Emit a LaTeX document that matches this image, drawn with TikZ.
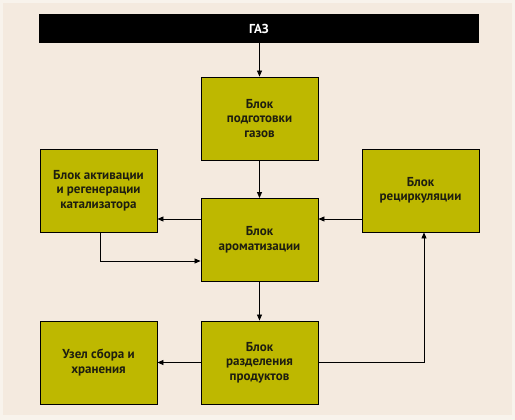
\documentclass[tikz,border=0pt]{standalone}
\usepackage{fontspec}
\setmainfont{PT Sans}
\usetikzlibrary{arrows.meta}
\definecolor{bg}{HTML}{F4EADF}
\definecolor{bgedge}{HTML}{F8F3EC}
\definecolor{boxfill}{HTML}{BEB800}
\definecolor{txt}{HTML}{1E1E10}
\tikzset{
  blk/.style={draw=black, line width=0.9pt, fill=boxfill, minimum width=117pt, minimum height=83pt,
    inner sep=0pt, align=center, font=\bfseries\fontsize{13}{14.5}\selectfont, text=txt},
  conn/.style={line width=0.8pt, -{Triangle[length=6pt,width=5pt]}},
  plain/.style={line width=0.8pt}
}
\begin{document}
\begin{tikzpicture}[x=1pt,y=-1pt]
\useasboundingbox (0,0) rectangle (515,420);
\fill[bgedge] (0,0) rectangle (515,420);
\fill[bg] (3,3) rectangle (512,415);
\node[fill=black, minimum width=440pt, minimum height=29pt, inner sep=0pt, text=white,
  font=\bfseries\fontsize{13}{14.5}\selectfont] (gas) at (259,28.5) {ГАЗ};
\node[blk] (prep) at (259.5,118.5) {Блок\\подготовки\\газов};
\node[blk] (arom) at (259.5,240) {Блок\\ароматизации};
\node[blk] (act) at (98.5,190.5) {Блок активации\\и регенерации\\катализатора};
\node[blk] (rec) at (420.5,190.5) {Блок\\рециркуляции};
\node[blk] (sep) at (259.5,362.5) {Блок\\разделения\\продуктов};
\node[blk] (stor) at (98.5,362.5) {Узел сбора и\\хранения};
\draw[conn] (gas.south -| prep.north) -- (prep.north);
\draw[conn] (prep) -- (arom);
\draw[conn] (arom.west |- 0,219) -- (act.east |- 0,219);
\draw[conn] (rec.west |- 0,219) -- (arom.east |- 0,219);
\draw[conn] (act.south -| 100,0) |- (arom.west |- 0,261);
\draw[conn] (arom) -- (sep);
\draw[conn] (sep) -- (stor);
\draw[conn] (sep.east) -| (rec.south -| 424,0);
\end{tikzpicture}
\end{document}
